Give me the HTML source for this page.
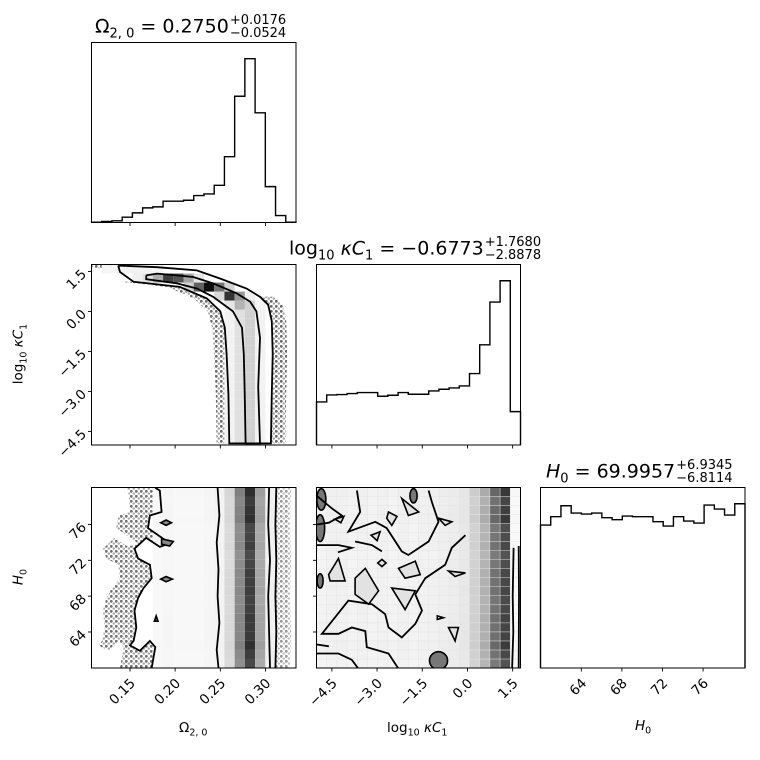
<!DOCTYPE html>
<html><head><meta charset="utf-8"><style>
html,body{margin:0;padding:0;background:#fff;}
svg{display:block;font-family:"DejaVu Sans","Liberation Sans",sans-serif;}
</style></head><body>
<svg id="fig" width="760" height="760" viewBox="0 0 760 760" xmlns="http://www.w3.org/2000/svg">
<defs>
<pattern id="dots" width="5" height="5" patternUnits="userSpaceOnUse">
<circle cx="1.3" cy="1.3" r="1.4" fill="#222" opacity="0.8"/>
<circle cx="3.8" cy="3.6" r="1.2" fill="#444" opacity="0.6"/>
</pattern>
</defs>
<g id="root"></g>
</svg>
<script>
// ---------- data ----------
const rangeOmega = [0.1074, 0.3338];
const rangeLogk = [-5.01, 1.76];
const rangeH0 = [59.98, 80.13];
const histOmega = [1,3,5,16,29,44,47,64,64,67,81,86,112,198,380,493,330,108,21,1];
const histLogk = [129,150,151,154,157,157,146,149,157,152,152,162,167,171,177,214,300,428,492,100];
const histH0 = [430,455,488,466,463,466,452,446,457,455,455,440,427,455,442,436,490,478,460,494];
const omegaTicks = [0.15,0.20,0.25,0.30];
const omegaTickLabels = ["0.15","0.20","0.25","0.30"];
const logkTicks = [-4.5,-3.0,-1.5,0.0,1.5];
const logkTickLabels = ["\u22124.5","\u22123.0","\u22121.5","0.0","1.5"];
const h0Ticks = [64,68,72,76];
const h0TickLabels = ["64","68","72","76"];
// panel omega-logk heatmap: [omegaCol, logkRowFromTop, density]
const cellsOL = [[1,0,.04],[2,0,.04],[3,0,.05],[4,0,.05],[5,0,.05],[6,0,.04],
 [4,1,.06],[5,1,.12],[6,1,.32],[7,1,.75],[8,1,.68],[9,1,.36],[10,1,.1],
 [9,2,.18],[10,2,.62],[11,2,.95],[12,2,.55],[13,2,.18],
 [12,3,.15],[13,3,.8],[14,3,.4],[15,3,.06],
 [13,4,.1],[14,4,.3],[15,4,.18],[16,4,.04]];
const bandColsOL = [13,14,15,16];
const bandDensOL = [.05,.12,.18,.05];
// omega-H0 columns
const colDensOH = [0,0,0,0,0,0,.03,.04,.03,.03,.03,.04,.05,.16,.5,.82,.38,.06,0,0];
// logk-H0 columns
const colDensLH = [.05,.06,.06,.05,.06,.05,.06,.05,.06,.05,.06,.06,.07,.08,.1,.2,.33,.6,.78,.03];
// contours omega-logk [omega, logk]
const outerOL = [[0.137,1.72],[0.180,1.66],[0.224,1.54],[0.250,1.23],[0.279,0.86],[0.294,0.55],[0.303,0.25],[0.307,-0.37],[0.308,-1.6],[0.307,-3.07],[0.306,-4.95],
 [0.260,-4.95],[0.259,-3.07],[0.257,-1.6],[0.255,-0.61],[0.250,0],[0.235,0.49],[0.205,0.92],[0.154,1.11],[0.139,1.48],[0.137,1.72]];
const innerOL = [[0.168,1.35],[0.180,1.42],[0.202,1.35],[0.220,1.29],[0.242,1.05],[0.268,0.68],[0.283,0.37],[0.290,0],[0.294,-0.98],[0.292,-2.83],[0.294,-4.95],
 [0.278,-4.95],[0.277,-3.07],[0.276,-1.6],[0.274,-0.61],[0.264,0],[0.242,0.55],[0.224,0.86],[0.202,1.05],[0.168,1.21],[0.168,1.35]];
const topScatterOL = [[0.108,1.76],[0.137,1.76],[0.137,1.62],[0.120,1.60],[0.108,1.66]];
// contours omega-H0
const leftOH = [[0.178,80.1],[0.183,79.8],[0.185,77.4],[0.172,77.0],[0.170,75.6],[0.194,73.9],[0.183,73.5],[0.168,74.5],[0.155,73.3],[0.159,72.2],[0.172,71.5],[0.174,70.0],[0.165,68.9],[0.159,67.8],[0.155,66.4],[0.157,64.5],[0.154,63.0],[0.150,62.5],[0.161,61.9],[0.172,63.0],[0.178,62.3],[0.174,60.0]];
const lineOH1 = [[0.247,80.1],[0.249,77],[0.246,74],[0.248,71],[0.247,68],[0.249,65],[0.246,62],[0.248,60]];
const lineOH2 = [[0.304,80.1],[0.303,76],[0.305,72],[0.303,68],[0.304,64],[0.305,60]];
const lineOH3 = [[0.312,80.1],[0.311,76],[0.312,72],[0.311,68],[0.312,64],[0.311,60]];
const loopsOH = [[[0.190,76.5],[0.196,76.2],[0.190,75.9],[0.184,76.2]],[[0.185,74.4],[0.198,74.1],[0.194,73.6],[0.185,73.8]],[[0.190,70.2],[0.197,69.9],[0.190,69.6],[0.184,69.9]],[[0.179,65.8],[0.181,65.2],[0.177,65.2]]];
// contours logk-H0
const linesLH = [
 [[-3.67,79.8],[-3.56,77.4],[-3.95,75.2],[-3.06,76.3],[-2.68,75.6],[-2.18,73.0],[-1.96,72.6],[-1.29,74.1],[-0.96,76.3],[-1.18,78.5],[-1.29,79.8]],
 [[-0.07,74.8],[-0.52,73.4],[-0.74,71.5],[-1.40,70.0],[-1.73,68.2],[-1.51,66.4],[-1.73,64.9],[-2.18,63.4],[-2.62,64.5],[-2.73,66.0],[-3.17,67.1],[-3.95,67.5],[-4.83,63.8],[-4.28,63.8],[-3.84,64.5],[-3.39,64.1],[-3.34,62.3],[-2.62,61.6],[-2.29,59.9]],
 [[-5.0,79.2],[-4.50,77.8],[-4.17,77.0],[-4.6,76.2],[-5.0,76.0]],
 [[-5.0,73.7],[-4.28,73.7],[-3.84,73.4],[-4.3,72.9]],
 [[-3.73,74.1],[-3.17,73.7],[-2.84,73.0]],
 [[-5.0,61.6],[-4.28,61.6],[-3.84,60.9],[-3.62,59.9]],
 [[-5.0,62.6],[-4.6,62.4]],
 [[1.53,73.4],[1.50,68],[1.52,64],[1.48,59.9]],
 [[1.70,73.6],[1.71,68],[1.70,59.9]]];
const loopsLH = [
 [[-2.84,72.1],[-2.70,71.7],[-2.84,71.3],[-2.98,71.7]],
 [[-2.51,68.9],[-1.73,68.6],[-2.07,66.5]],
 [[-4.61,70.4],[-4.28,72.2],[-4.06,69.7],[-4.56,69.7]],
 [[-2.18,78.9],[-1.62,77.4],[-1.96,77.0]],
 [[-0.63,70.8],[-0.07,70.6],[-0.41,70.2]],
 [[-0.63,64.5],[-0.30,64.5],[-0.41,63.0]],
 [[-3.2,74.8],[-2.9,75.2],[-3.0,74.2]],
 [[-3.73,70.0],[-3.39,71.1],[-2.95,68.6],[-3.28,67.1],[-3.73,68.2]],
 [[-2.29,71.1],[-1.73,71.9],[-1.57,70.4],[-2.07,70.0]],
 [[-0.96,76.7],[-0.52,76.3],[-0.74,75.9]],
 [[-2.62,77.4],[-2.34,76.9],[-2.51,75.9],[-2.68,76.7]],
 [[-4.4,76.6],[-4.1,76.9],[-4.2,76.2]],
 [[-1.0,65.8],[-0.8,65.6],[-1.0,65.4]]];
const blobsLH = [[-4.89,75.6,.15,1.5],[-4.89,69.7,.1,.8],[-0.96,60.8,.3,1.0],[-1.79,79.2,.12,.8],[-4.85,78.8,.15,1.2]];

// ---------- layout ----------
const colX = [[91.5,296],[316.5,520.5],[540.5,745]];
const rowY = [[42.5,222.5],[264.5,445],[487.5,668]];
const root = document.getElementById('root');
const NS = 'http://www.w3.org/2000/svg';
function mk(tag, attrs, parent){
  const e = document.createElementNS(NS, tag);
  for (const k in attrs) e.setAttribute(k, attrs[k]);
  (parent||root).appendChild(e);
  return e;
}
function lin(d0,d1,p0,p1){ return v => p0 + (v-d0)/(d1-d0)*(p1-p0); }
const xO = lin(rangeOmega[0],rangeOmega[1],colX[0][0],colX[0][1]);
const xL = lin(rangeLogk[0],rangeLogk[1],colX[1][0],colX[1][1]);
const xH = lin(rangeH0[0],rangeH0[1],colX[2][0],colX[2][1]);
const yL = lin(rangeLogk[0],rangeLogk[1],rowY[1][1],rowY[1][0]);
const yH = lin(rangeH0[0],rangeH0[1],rowY[2][1],rowY[2][0]);
function gray(d){ const g = Math.round(255*(1-Math.min(1,d))); return `rgb(${g},${g},${g})`; }

function clip(id, c, r){
  const cp = mk('clipPath',{id:id}, document.querySelector('defs'));
  mk('rect',{x:colX[c][0],y:rowY[r][0],width:colX[c][1]-colX[c][0],height:rowY[r][1]-rowY[r][0]},cp);
}
clip('c10',0,1); clip('c20',0,2); clip('c21',1,2);

function hist(vals, c, r, name){
  const g = mk('g',{});
  
  
  const [x0,x1] = colX[c], [y0,y1] = rowY[r];
  const mx = Math.max(...vals), w = (x1-x0)/vals.length, H = (y1-y0)*0.91;
  let d = `M${x0},${y1}`;
  vals.forEach((v,i)=>{ const y = y1 - v/mx*H; d += ` L${x0+i*w},${y} L${x0+(i+1)*w},${y}`; });
  d += ` L${x1},${y1}`;
  const p = mk('path',{d:d,fill:'none',stroke:'#000','stroke-width':1.4},g);
  
  
}
function poly(pts, fx, fy, g, attrs, closed){
  let d = pts.map((p,i)=>(i?'L':'M')+fx(p[0]).toFixed(1)+','+fy(p[1]).toFixed(1)).join(' ');
  if (closed) d += ' Z';
  const a = Object.assign({d:d}, attrs);
  return mk('path', a, g);
}

// ---------- 2D panel omega-logk ----------
{
  const g = mk('g',{'clip-path':'url(#c10)'});
  
  
  const cw = (colX[0][1]-colX[0][0])/20, rh = (rowY[1][1]-rowY[1][0])/20;
  const leftBand = outerOL.slice(11,19).map(p=>[p[0]-0.014,p[1]]).concat(outerOL.slice(11,19).reverse());
  const rightBand = outerOL.slice(5,11).concat(outerOL.slice(5,11).reverse().map(p=>[p[0]+0.016,p[1]]));
  [leftBand,rightBand,topScatterOL].forEach(b=>{
    const s = poly(b,xO,yL,g,{fill:'url(#dots)',opacity:0.85},true);
    
    
  });
  for (let row=5; row<20; row++){
    bandColsOL.forEach((c,k)=>{
      const r = mk('rect',{x:colX[0][0]+c*cw,y:rowY[1][0]+row*rh,width:cw,height:rh,fill:gray(bandDensOL[k])},g);
      
      
    });
  }
  cellsOL.forEach(c=>{
    const r = mk('rect',{x:colX[0][0]+c[0]*cw,y:rowY[1][0]+c[1]*rh,width:cw,height:rh,fill:gray(c[2])},g);
    
    
  });
  [outerOL,innerOL].forEach(ct=>{
    const p = poly(ct,xO,yL,g,{fill:'none',stroke:'#000','stroke-width':1.8},false);
    
    
  });
}
// ---------- 2D panel omega-H0 ----------
{
  const g = mk('g',{'clip-path':'url(#c20)'});
  
  
  const cw = (colX[0][1]-colX[0][0])/20, rh = (rowY[2][1]-rowY[2][0])/20;
  const hmax = Math.max(...histH0);
  const lb = leftOH.map(p=>[p[0]-0.035,p[1]]).concat(leftOH.slice().reverse());
  const s1 = poly(lb,xO,yH,g,{fill:'url(#dots)',opacity:0.8},true);
  
  
  const rb = lineOH3.concat(lineOH3.slice().reverse().map(p=>[p[0]+0.016,p[1]]));
  const s2 = poly(rb,xO,yH,g,{fill:'url(#dots)',opacity:0.6},true);
  
  
  colDensOH.forEach((d,i)=>{
    if (!d) return;
    for (let j=0;j<20;j++){
      const r = mk('rect',{x:colX[0][0]+i*cw,y:rowY[2][1]-(j+1)*rh,width:cw,height:rh,fill:gray(d*histH0[j]/hmax)},g);
      
      
    }
  });
  [leftOH,lineOH1,lineOH2,lineOH3].forEach(ct=>{
    const p = poly(ct,xO,yH,g,{fill:'none',stroke:'#000','stroke-width':1.8},false);
    
    
  });
  loopsOH.forEach(ct=>{
    const p = poly(ct,xO,yH,g,{fill:'#888',stroke:'#000','stroke-width':1.6},true);
    
    
  });
}
// ---------- 2D panel logk-H0 ----------
{
  const g = mk('g',{'clip-path':'url(#c21)'});
  
  
  const cw = (colX[1][1]-colX[1][0])/20, rh = (rowY[2][1]-rowY[2][0])/20;
  const hmax = Math.max(...histH0);
  colDensLH.forEach((d,i)=>{
    for (let j=0;j<20;j++){
      const r = mk('rect',{x:colX[1][0]+i*cw,y:rowY[2][1]-(j+1)*rh,width:cw,height:rh,fill:gray(d*histH0[j]/hmax),stroke:'#e4e4e4','stroke-width':0.4},g);
      
      
    }
  });
  blobsLH.forEach(b=>{
    const e = mk('ellipse',{cx:xL(b[0]),cy:yH(b[1]),rx:Math.abs(xL(b[0]+b[2])-xL(b[0])),ry:Math.abs(yH(b[1]+b[3])-yH(b[1])),fill:'#777',stroke:'#000','stroke-width':1.6},g);
    
    
  });
  linesLH.forEach(ct=>{
    const p = poly(ct,xL,yH,g,{fill:'none',stroke:'#000','stroke-width':1.8},false);
    
    
  });
  loopsLH.forEach(ct=>{
    const p = poly(ct,xL,yH,g,{fill:'#e2e2e2',stroke:'#000','stroke-width':1.6},true);
    
    
  });
}
// ---------- histograms ----------
hist(histOmega,0,0,'hist-omega');
hist(histLogk,1,1,'hist-logk');
hist(histH0,2,2,'hist-h0');

// ---------- frames & ticks ----------
const panels = [[0,0],[0,1],[1,1],[0,2],[1,2],[2,2]];
panels.forEach(([c,r])=>{
  const f = mk('rect',{x:colX[c][0],y:rowY[r][0],width:colX[c][1]-colX[c][0],height:rowY[r][1]-rowY[r][0],fill:'none',stroke:'#000','stroke-width':1});
  
  
});
const xTickSets = [[omegaTicks,omegaTickLabels,xO],[logkTicks,logkTickLabels,xL],[h0Ticks,h0TickLabels,xH]];
panels.forEach(([c,r])=>{
  const [tv,tl,fx] = xTickSets[c];
  const yb = rowY[r][1];
  tv.forEach((v,i)=>{
    const t = mk('line',{x1:fx(v),x2:fx(v),y1:yb,y2:yb+3.5,stroke:'#000','stroke-width':0.9});
    
    
    if (r===2){
      const x = fx(v)+6, y = yb+16;
      const tx = mk('text',{x:x,y:y,'font-size':13.5,'text-anchor':'end',transform:`rotate(-45 ${x} ${y})`});
      tx.textContent = tl[i];
      
      
    }
  });
  if (c < r){
    const [yv,yl,fy] = r===1 ? [logkTicks,logkTickLabels,yL] : [h0Ticks,h0TickLabels,yH];
    if (c===0){
      yv.forEach((v,i)=>{
        const t = mk('line',{x1:colX[0][0]-3.5,x2:colX[0][0],y1:fy(v),y2:fy(v),stroke:'#000','stroke-width':0.9});
        
        
        const x = colX[0][0]-8, y = fy(v);
        const tx = mk('text',{x:x,y:y+5,'font-size':13.5,'text-anchor':'end',transform:`rotate(-45 ${x} ${y})`});
        tx.textContent = yl[i];
        
        
      });
    } else {
      yv.forEach(v=>{
        const t = mk('line',{x1:colX[c][0]-3.5,x2:colX[c][0],y1:fy(v),y2:fy(v),stroke:'#000','stroke-width':0.9});
        
        
      });
    }
  }
});
</script>
<div style="position:absolute;left:0;top:0;width:760px;height:760px;pointer-events:none;font-family:'DejaVu Sans','Liberation Sans',sans-serif;color:#000">
  <div style="position:absolute;left:95px;top:14px;font-size:19px;white-space:nowrap">Ω<sub style="font-size:13px">2, 0</sub> = 0.2750<span style="display:inline-block;vertical-align:middle;font-size:13px;line-height:13px;margin-left:1px"><span style="display:block">+0.0176</span><span style="display:block">−0.0524</span></span></div>
  <div style="position:absolute;left:289px;top:236px;font-size:19px;white-space:nowrap">log<sub style="font-size:13px">10</sub> <i>κC</i><sub style="font-size:13px">1</sub> = −0.6773<span style="display:inline-block;vertical-align:middle;font-size:13px;line-height:13px;margin-left:1px"><span style="display:block">+1.7680</span><span style="display:block">−2.8878</span></span></div>
  <div style="position:absolute;left:546px;top:459px;font-size:19px;white-space:nowrap"><i>H</i><sub style="font-size:13px">0</sub> = 69.9957<span style="display:inline-block;vertical-align:middle;font-size:13px;line-height:13px;margin-left:1px"><span style="display:block">+6.9345</span><span style="display:block">−6.8114</span></span></div>
  <div style="position:absolute;left:179px;top:720px;font-size:13.5px">Ω<sub style="font-size:9.5px">2, 0</sub></div>
  <div style="position:absolute;left:387px;top:720px;font-size:13.5px">log<sub style="font-size:9.5px">10</sub> <i>κC</i><sub style="font-size:9.5px">1</sub></div>
  <div style="position:absolute;left:635px;top:718px;font-size:13.5px"><i>H</i><sub style="font-size:9.5px">0</sub></div>
  <div style="position:absolute;left:20px;top:354px;font-size:13.5px;white-space:nowrap;transform:translate(-50%,-50%) rotate(-90deg)">log<sub style="font-size:9.5px">10</sub> <i>κC</i><sub style="font-size:9.5px">1</sub></div>
  <div style="position:absolute;left:20px;top:577px;font-size:13.5px;white-space:nowrap;transform:translate(-50%,-50%) rotate(-90deg)"><i>H</i><sub style="font-size:9.5px">0</sub></div>
</div>
</body></html>
